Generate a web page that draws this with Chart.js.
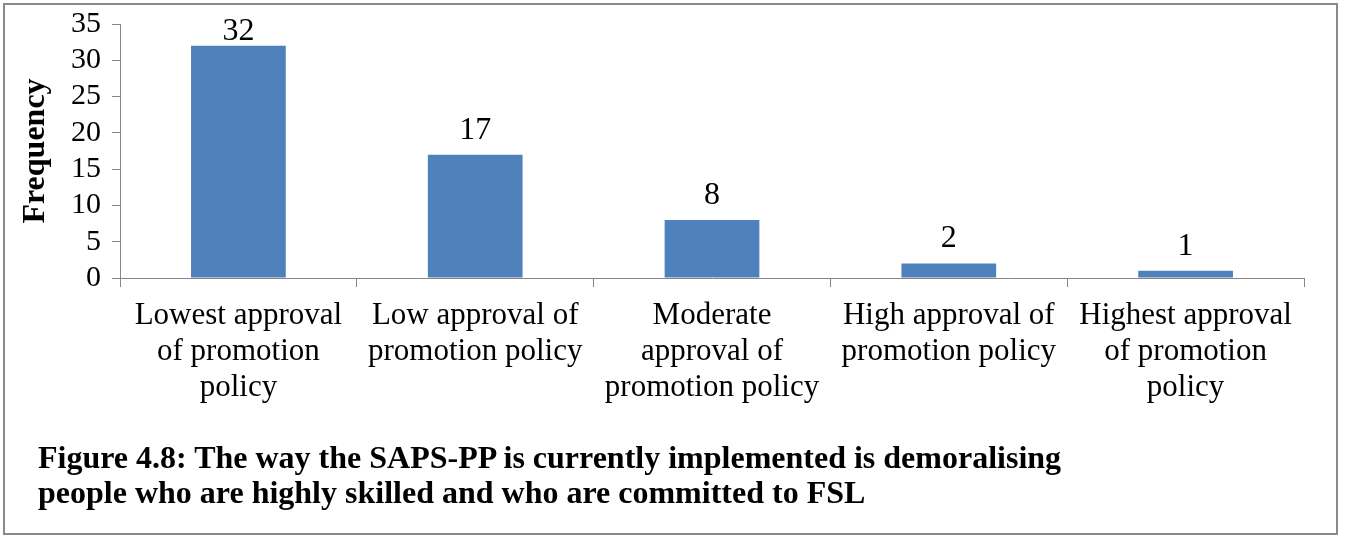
<!DOCTYPE html>
<html>
<head>
<meta charset="utf-8">
<script src="https://cdn.jsdelivr.net/npm/chart.js@4.4.1/dist/chart.umd.min.js"></script>
<style>
  html, body { margin: 0; padding: 0; background: #fff; }
  #wrap { position: relative; width: 1351px; height: 538px; }
  #caption {
    position: absolute; left: 38px; top: 440px;
    font: bold 32px "Liberation Serif", "Times New Roman", serif;
    line-height: 35px; color: #000; white-space: nowrap;
  }
</style>
</head>
<body>
<div id="wrap">
  <canvas id="chart" width="1351" height="538"></canvas>
  <div id="caption">Figure 4.8: The way the SAPS-PP is currently implemented is demoralising<br>people who are highly skilled and who are committed to FSL</div>
</div>
<script>
// Data
const categories = [
    ['Lowest approval', 'of promotion', 'policy'],
    ['Low approval of', 'promotion policy'],
    ['Moderate', 'approval of', 'promotion policy'],
    ['High approval of', 'promotion policy'],
    ['Highest approval', 'of promotion', 'policy']
];
const frequency = [32, 17, 8, 2, 1];
const yTicks = [0, 5, 10, 15, 20, 25, 30, 35];

const serif = '"Liberation Serif", "Times New Roman", serif';

// outer frame + value labels above bars
const framePlugin = {
    id: 'frame',
    beforeDraw(chart) {
        const ctx = chart.ctx;
        ctx.save();
        ctx.strokeStyle = '#8a8a8a';
        ctx.lineWidth = 2;
        ctx.strokeRect(4, 4, 1333, 530);
        ctx.restore();
    },
    afterDatasetsDraw(chart) {
        const ctx = chart.ctx;
        const meta = chart.getDatasetMeta(0);
        const top = chart.chartArea.top;
        ctx.save();
        ctx.font = '32px ' + serif;
        ctx.fillStyle = '#000';
        ctx.textAlign = 'center';
        ctx.textBaseline = 'alphabetic';
        meta.data.forEach((bar, i) => {
            // keep the label inside the plot area, like the original
            const y = Math.max(bar.y - 16, top + 16);
            ctx.fillText(String(frequency[i]), bar.x, y);
        });
        ctx.restore();
    }
};

const ctx = document.getElementById('chart').getContext('2d');
new Chart(ctx, {
    type: 'bar',
    data: {
        labels: categories,
        datasets: [{
            data: frequency,
            backgroundColor: '#4F81BD',
            categoryPercentage: 0.8,
            barPercentage: 0.5
        }]
    },
    options: {
        responsive: false,
        animation: false,
        layout: { padding: { top: 24, right: 47, left: 0, bottom: 0 } },
        plugins: { legend: { display: false }, tooltip: { enabled: false } },
        scales: {
            x: {
                grid: { display: true, drawOnChartArea: false, offset: true, tickLength: 9, color: '#868686' },
                border: { color: '#868686', width: 1 },
                ticks: { color: '#000', font: { family: serif, size: 31, lineHeight: 1.16 }, padding: 11, maxRotation: 0, autoSkip: false },
                afterFit: s => { s.height = 260; s.paddingLeft = 0; s.paddingRight = 0; }
            },
            y: {
                min: 0,
                max: 35,
                afterBuildTicks: s => { s.ticks = yTicks.map(v => ({ value: v })); },
                grid: { display: true, drawOnChartArea: false, tickLength: 8, color: '#868686' },
                border: { color: '#868686', width: 1 },
                ticks: { color: '#000', font: { family: serif, size: 30 }, padding: 11, autoSkip: false },
                title: {
                    display: true, text: 'Frequency', color: '#000',
                    font: { family: serif, size: 32, weight: 'bold', lineHeight: 1.2 },
                    padding: { top: 17, bottom: 0 }
                },
                afterFit: s => { s.width = 120; s.paddingTop = 0; s.paddingBottom = 0; }
            }
        }
    },
    plugins: [framePlugin]
});
</script>
</body>
</html>
